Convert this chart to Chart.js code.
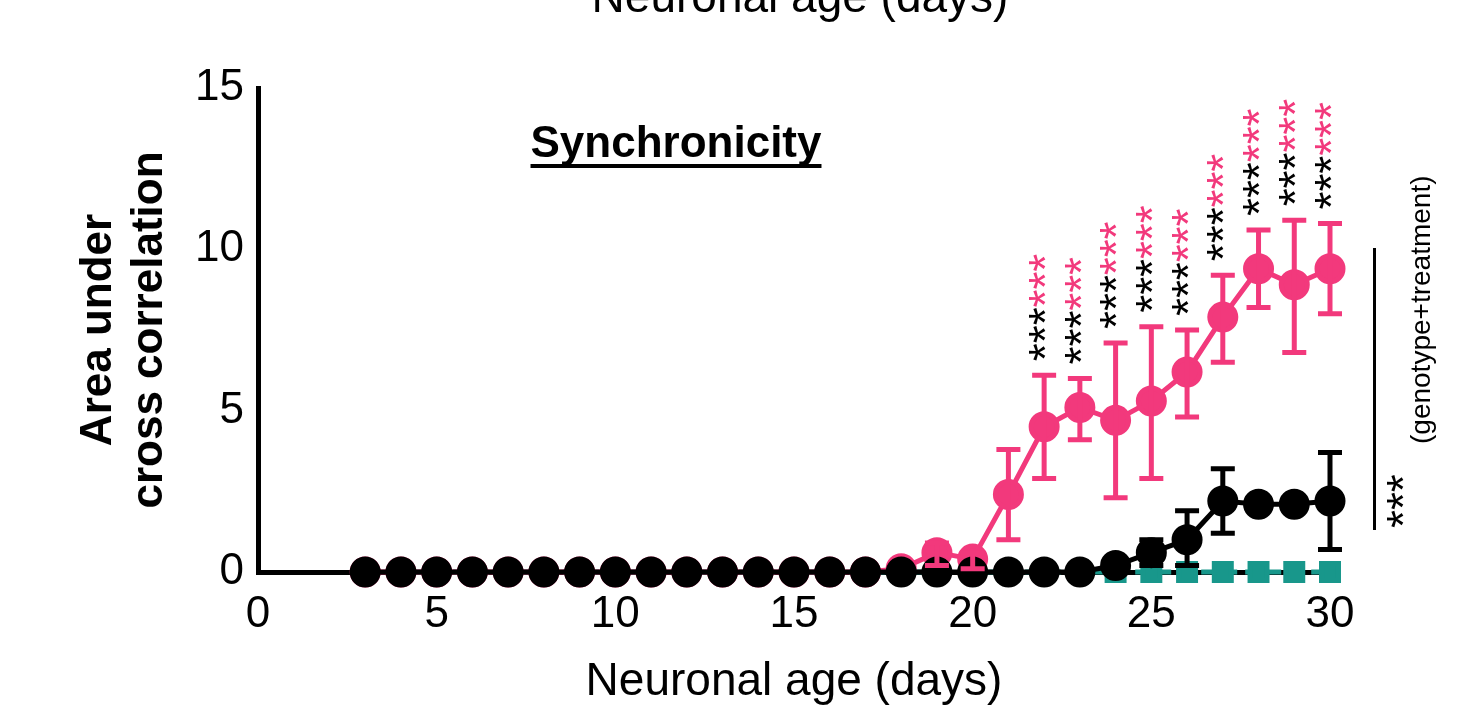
<!DOCTYPE html>
<html>
<head>
<meta charset="utf-8">
<script src="https://cdn.jsdelivr.net/npm/chart.js@4"></script>
<style>
  html, body { margin: 0; padding: 0; background: #fff; }
  #wrap { width: 1475px; height: 714px; position: relative; }
</style>
</head>
<body>
<div id="wrap"><canvas id="chart"></canvas></div>
<script>
// data
const days = [3,4,5,6,7,8,9,10,11,12,13,14,15,16,17,18,19,20,21,22,23,24,25,26,27,28,29,30];
const pinkMean = [0,0,0,0,0,0,0,0,0,0,0,0,0,0,0,0.1,0.6,0.4,2.4,4.5,5.1,4.7,5.3,6.2,7.9,9.4,8.9,9.4];
const pinkLow  = [0,0,0,0,0,0,0,0,0,0,0,0,0,0,0,0,0.2,0.1,1.0,2.9,4.1,2.3,2.9,4.8,6.5,8.2,6.8,8.0];
const pinkHigh = [0,0,0,0,0,0,0,0,0,0,0,0,0,0,0,0.2,0.9,0.6,3.8,6.1,6.0,7.1,7.6,7.5,9.2,10.6,10.9,10.8];
const blackMean = [0,0,0,0,0,0,0,0,0,0,0,0,0,0,0,0,0,0,0,0,0,0.2,0.6,1.0,2.2,2.1,2.1,2.2];
const blackLow  = [0,0,0,0,0,0,0,0,0,0,0,0,0,0,0,0,0,0,0,0,0,0.2,0.2,0.2,1.2,2.1,2.1,0.7];
const blackHigh = [0,0,0,0,0,0,0,0,0,0,0,0,0,0,0,0,0,0,0,0,0,0.2,1.0,1.9,3.2,2.1,2.1,3.7];
const tealMean = days.map(() => 0);
const starDays = [22,23,24,25,26,27,28,29,30];
const yTicks = [0,5,10,15];

const PINK = '#f2397c';
const TEAL = '#18978b';
const FONT = 'Arial, "Liberation Sans", sans-serif';
const pts = (arr) => days.map((d, i) => ({x: d, y: arr[i]}));

const errorBars = {
  id: 'errorBars',
  afterDatasetsDraw(chart) {
    const {ctx, scales: {x, y}} = chart;
    const sets = [[pinkLow, pinkHigh, PINK], [blackLow, blackHigh, '#000']];
    ctx.save();
    ctx.lineWidth = 5;
    sets.forEach(([lo, hi, col]) => {
      ctx.strokeStyle = col;
      days.forEach((d, i) => {
        if (hi[i] - lo[i] < 0.25) return;
        const px = x.getPixelForValue(d), a = y.getPixelForValue(lo[i]), b = y.getPixelForValue(hi[i]);
        ctx.beginPath();
        ctx.moveTo(px, a); ctx.lineTo(px, b);
        ctx.moveTo(px - 12, a); ctx.lineTo(px + 12, a);
        ctx.moveTo(px - 12, b); ctx.lineTo(px + 12, b);
        ctx.stroke();
      });
    });
    ctx.restore();
  }
};

const annotations = {
  id: 'annotations',
  afterDraw(chart) {
    const {ctx, scales: {x, y}} = chart;
    ctx.save();
    // cropped heading at very top
    ctx.fillStyle = '#000';
    ctx.font = '46px ' + FONT;
    ctx.textAlign = 'center';
    ctx.fillText('Neuronal age (days)', 800, 12);
    // title
    ctx.font = 'bold 44px ' + FONT;
    ctx.fillText('Synchronicity', 676, 157);
    const tw = ctx.measureText('Synchronicity').width;
    ctx.fillRect(676 - tw / 2, 164, tw, 4);
    // significance stars
    ctx.font = '46px ' + FONT;
    ctx.textAlign = 'left';
    ctx.textBaseline = 'middle';
    starDays.forEach(d => {
      const i = days.indexOf(d);
      const px = x.getPixelForValue(d);
      const start = y.getPixelForValue(pinkHigh[i]) - 14;
      ctx.save();
      ctx.translate(px + 4, start);
      ctx.rotate(-Math.PI / 2);
      ctx.fillStyle = '#000';
      ctx.fillText('***', 0, 0);
      const w = ctx.measureText('***').width;
      ctx.fillStyle = PINK;
      ctx.fillText('***', w, 0);
      ctx.restore();
    });
    // right bracket
    ctx.fillStyle = '#000';
    ctx.fillRect(1373, 248, 3, 282);
    ctx.save();
    ctx.translate(1400, 528);
    ctx.rotate(-Math.PI / 2);
    ctx.textBaseline = 'middle';
    ctx.font = '46px ' + FONT;
    ctx.fillText('***', 0, 6);
    ctx.font = '28px ' + FONT;
    ctx.fillText('(genotype+treatment)', 84, 22);
    ctx.restore();
    ctx.restore();
  }
};

new Chart(document.getElementById('chart'), {
  type: 'line',
  data: {
    datasets: [
      { label: 'teal', data: pts(tealMean), borderColor: TEAL, backgroundColor: TEAL, borderWidth: 5,
        pointStyle: 'rect', pointRadius: 12, borderDash: [14, 8], order: 3, clip: false },
      { label: 'pink', data: pts(pinkMean), borderColor: PINK, backgroundColor: PINK, borderWidth: 5,
        pointRadius: 13, order: 2, clip: false },
      { label: 'black', data: pts(blackMean), borderColor: '#000', backgroundColor: '#000', borderWidth: 5,
        pointRadius: 13, order: 1, clip: false }
    ]
  },
  options: {
    responsive: true,
    maintainAspectRatio: false,
    animation: false,
    layout: { padding: { top: 88, right: 145, left: 70, bottom: 0 } },
    plugins: { legend: { display: false }, tooltip: { enabled: false } },
    scales: {
      x: {
        type: 'linear', min: 0, max: 30,
        border: { color: '#000', width: 5 },
        grid: { display: false, drawTicks: true, tickLength: 10, tickWidth: 4, tickColor: '#000', drawOnChartArea: false },
        ticks: { stepSize: 1, color: '#000', padding: 6, font: { size: 44, family: FONT },
                 maxRotation: 0, autoSkip: false, callback: v => v % 5 === 0 ? v : '' },
        title: { display: true, text: 'Neuronal age (days)', color: '#000', padding: { top: 2 },
                 font: { size: 46, family: FONT } },
        afterFit(s) { s.height = 142; }
      },
      y: {
        min: 0, max: 15,
        border: { color: '#000', width: 5 },
        grid: { display: false, drawTicks: true, tickLength: 10, tickWidth: 4, tickColor: '#000', drawOnChartArea: false },
        ticks: { stepSize: 5, color: '#000', padding: 4, font: { size: 44, family: FONT },
                 callback: v => yTicks.includes(v) ? v : '' },
        title: { display: true, text: ['Area under', 'cross correlation'], color: '#000', padding: { bottom: 10 },
                 font: { size: 44, weight: 'bold', family: FONT, lineHeight: 1.15 } },
        afterFit(s) { s.width = 188; }
      }
    }
  },
  plugins: [errorBars, annotations]
});
</script>
</body>
</html>
